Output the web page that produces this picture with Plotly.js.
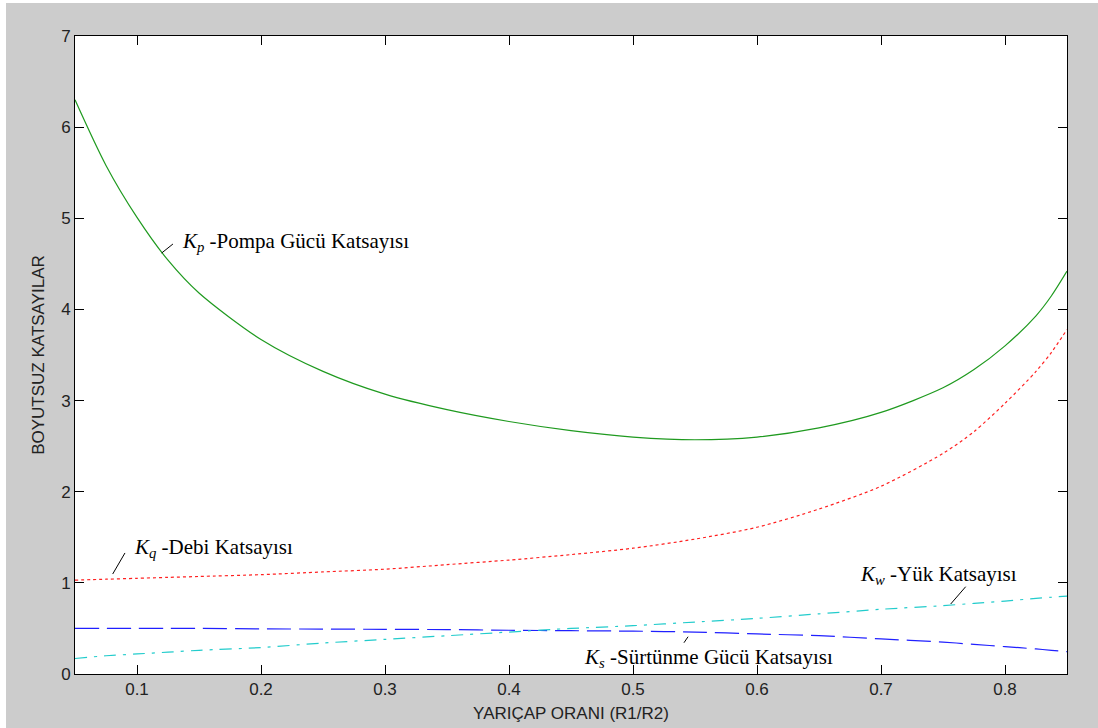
<!DOCTYPE html>
<html>
<head>
<meta charset="utf-8">
<script src="https://cdn.plot.ly/plotly-3.0.1.min.js"></script>
<style>
html,body{margin:0;padding:0;background:#ffffff;overflow:hidden;}
#chart{position:absolute;left:6px;top:3px;width:1092px;height:725px;}
</style>
</head>
<body>
<div id="chart"></div>
<script>
// Radius ratio R1/R2
const ratio = [0.05,0.075,0.1,0.125,0.15,0.2,0.25,0.3,0.35,0.4,0.45,0.5,0.55,0.6,0.65,0.7,0.75,0.775,0.8,0.825,0.8375,0.85];
// Kp - pump power coefficient
const kp = [6.30,5.58,5.01,4.54,4.18,3.67,3.32,3.07,2.90,2.77,2.67,2.60,2.57,2.60,2.70,2.87,3.14,3.34,3.60,3.93,4.15,4.42];
// Kq - flow coefficient
const kq = [1.03,1.04,1.05,1.06,1.07,1.09,1.12,1.15,1.20,1.25,1.31,1.38,1.48,1.61,1.81,2.06,2.42,2.66,2.97,3.32,3.53,3.78];
// Ks - friction power coefficient
const ks = [0.50,0.50,0.50,0.50,0.50,0.495,0.493,0.49,0.487,0.48,0.475,0.47,0.46,0.44,0.42,0.385,0.35,0.325,0.30,0.275,0.26,0.245];
// Kw - load coefficient
const kw = [0.17,0.20,0.22,0.24,0.26,0.29,0.34,0.38,0.42,0.46,0.50,0.53,0.57,0.61,0.66,0.71,0.75,0.775,0.80,0.83,0.842,0.855];

const xTicks = [0.1,0.2,0.3,0.4,0.5,0.6,0.7,0.8];
const yTicks = [0,1,2,3,4,5,6,7];

const labels = [
  {text:'<i>K</i><sub><i>p</i></sub> -Pompa Gücü Katsayısı', x:0.1347, y:4.74, lx:[0.1199,0.129], ly:[4.619,4.718]},
  {text:'<i>K</i><sub><i>q</i></sub> -Debi Katsayısı', x:0.0957, y:1.382, lx:[0.0804,0.0903], ly:[1.097,1.328]},
  {text:'<i>K</i><sub><i>s</i></sub> -Sürtünme Gücü Katsayısı', x:0.4586, y:0.176, lx:[0.5411,0.5444], ly:[0.343,0.409]},
  {text:'<i>K</i><sub><i>w</i></sub> -Yük Katsayısı', x:0.6815, y:1.086, lx:[0.7562,0.7683], ly:[0.768,0.958]}
];

const traces = [
  {x:ratio, y:kp, mode:'lines', line:{color:'#1f9a1f', width:1.2, shape:'spline', smoothing:0.8}},
  {x:ratio, y:kq, mode:'lines', line:{color:'#ff2020', width:1.2, dash:'3px,3px', shape:'spline', smoothing:0.8}},
  {x:ratio, y:ks, mode:'lines', line:{color:'#2020ff', width:1.2, dash:'24px,8px', shape:'spline', smoothing:0.8}},
  {x:ratio, y:kw, mode:'lines', line:{color:'#22cccc', width:1.2, dash:'12px,7px,3px,7px', shape:'spline', smoothing:0.8}}
];

const sans = 'Arial, Liberation Sans, sans-serif';
const axisCommon = {
  showgrid:false, zeroline:false, showline:true, linecolor:'#000', linewidth:1,
  mirror:'ticks', ticks:'inside', ticklen:9, tickcolor:'#000', tickwidth:1,
  tickfont:{family:sans, size:17, color:'#222'}
};

const layout = {
  width:1092, height:725,
  paper_bgcolor:'#cccccc', plot_bgcolor:'#ffffff',
  showlegend:false,
  margin:{l:69, r:31, t:33, b:54},
  xaxis: Object.assign({}, axisCommon, {
    range:[0.05,0.85], tickvals:xTicks, ticktext:xTicks.map(v=>v.toFixed(1)),
    title:{text:'YARIÇAP ORANI (R1/R2)', standoff:8, font:{family:sans, size:17, color:'#222'}}
  }),
  yaxis: Object.assign({}, axisCommon, {
    range:[0,7], tickvals:yTicks, ticktext:yTicks.map(String),
    title:{text:'BOYUTSUZ KATSAYILAR', standoff:12, font:{family:sans, size:17, color:'#222'}}
  }),
  annotations: labels.map(l=>({
    x:l.x, y:l.y, xref:'x', yref:'y', text:l.text, showarrow:false,
    xanchor:'left', yanchor:'middle',
    font:{family:'Liberation Serif, Times New Roman, serif', size:21, color:'#000'}
  })),
  shapes: labels.map(l=>({
    type:'line', xref:'x', yref:'y', x0:l.lx[0], y0:l.ly[0], x1:l.lx[1], y1:l.ly[1],
    line:{color:'#000', width:1}
  }))
};

Plotly.newPlot('chart', traces, layout, {displayModeBar:false, staticPlot:true});
</script>
</body>
</html>
